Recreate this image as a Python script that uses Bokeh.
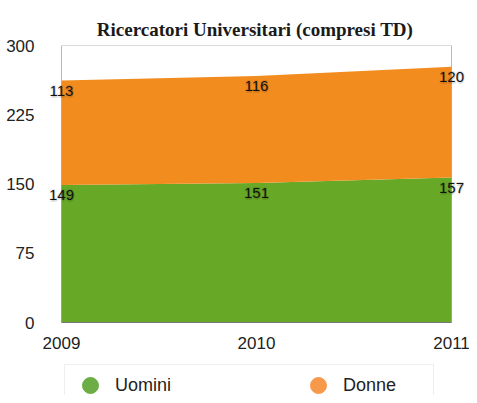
from bokeh.plotting import figure
from bokeh.models import (ColumnDataSource, FixedTicker, Legend, LegendItem,
                          LabelSet, Range1d)
from bokeh.core.properties import value
from bokeh.embed import file_html
from bokeh.resources import INLINE

# ---- data ----
years = [2009, 2010, 2011]
uomini = [149, 151, 157]
donne = [113, 116, 120]
series_names = ["Uomini", "Donne"]
y_ticks = [0, 75, 150, 225, 300]
x_ticks = [2009, 2010, 2011]
title_text = "Ricercatori Universitari (compresi TD)"

area_colors = ["#67a827", "#f28c1f"]
legend_colors = ["#6cae45", "#f7994a"]

# ---- layout (pixels) ----
W, H = 469, 395
x_left_px, x_right_px = 61, 451      # pixel positions of first / last year
pad_left_px = 21
frame_left = x_left_px - pad_left_px
frame_top, axis_bottom_px = 45, 322   # pixel rows of y=300 and y=0
px_per_year = (x_right_px - x_left_px) / (years[-1] - years[0])
pad_l = pad_left_px / px_per_year
pad_r = (W - x_right_px) / px_per_year
px_per_unit = (axis_bottom_px - frame_top) / (y_ticks[-1] - y_ticks[0])
y_min = y_ticks[-1] - (H - frame_top) / px_per_unit

p = figure(width=W, height=H, output_backend="svg", toolbar_location=None,
           x_axis_location=None,
           x_range=Range1d(years[0] - pad_l, years[-1] + pad_r),
           y_range=Range1d(y_min, y_ticks[-1]),
           min_border_left=frame_left, min_border_right=0,
           min_border_top=frame_top, min_border_bottom=0)

p.title.text = title_text
p.title.align = "center"
p.title.vertical_align = "middle"
p.title.text_font = "Liberation Serif"
p.title.text_font_style = "bold"
p.title.text_font_size = "19px"
p.title.text_color = "#1a1a1a"
p.title.standoff = 10

# plot-area border (light grey), drawn beneath the areas
bsrc = ColumnDataSource(dict(
    x0=[years[0], years[0], years[-1]],
    x1=[years[-1], years[0], years[-1]],
    y0=[y_ticks[-1], y_ticks[0], y_ticks[0]],
    y1=[y_ticks[-1], y_ticks[-1], y_ticks[-1]]))
p.segment(x0="x0", y0="y0", x1="x1", y1="y1", source=bsrc,
          line_color="#b8b8b8", line_width=1)

src = ColumnDataSource(dict(year=years, Uomini=uomini, Donne=donne))
p.varea_stack(series_names, x="year", source=src, color=area_colors)

# bottom axis line
p.segment(x0=[years[0]], y0=[y_ticks[0]], x1=[years[-1]], y1=[y_ticks[0]],
          line_color="#777777", line_width=1)

# x tick labels (under the y=0 line)
xt_src = ColumnDataSource(dict(x=x_ticks, y=[y_ticks[0]] * len(x_ticks),
                               t=[str(v) for v in x_ticks]))
p.add_layout(LabelSet(x="x", y="y", text="t", source=xt_src, y_offset=-20,
                      text_align="center", text_baseline="middle",
                      text_font=value("Liberation Sans"),
                      text_font_size=value("17px"), text_color="#222222"))

# value labels
top_u = list(uomini)
top_d = [u + d for u, d in zip(uomini, donne)]
lab_src = ColumnDataSource(dict(
    x=years + years,
    y=top_u + top_d,
    t=[str(v) for v in uomini] + [str(v) for v in donne]))
for dx, dy, alpha in [(1, -1, 0.12), (-1, 1, 0.08), (1, 1, 0.1), (0, -2, 0.1)]:
    p.add_layout(LabelSet(x="x", y="y", text="t", source=lab_src,
                          x_offset=dx, y_offset=-10 + dy, text_align="center",
                          text_baseline="middle",
                          text_font=value("Liberation Sans"),
                          text_font_size=value("15px"), text_color="black",
                          text_alpha=alpha))
p.add_layout(LabelSet(x="x", y="y", text="t", source=lab_src, y_offset=-10,
                      text_align="center", text_baseline="middle",
                      text_font=value("Liberation Sans"),
                      text_font_size=value("15px"), text_color="#111111"))

p.grid.visible = False
p.outline_line_color = None
p.background_fill_color = "white"
p.border_fill_color = "white"

p.yaxis.ticker = FixedTicker(ticks=y_ticks)
p.yaxis.axis_line_color = None
p.yaxis.major_tick_line_color = None
p.yaxis.minor_tick_line_color = None
p.yaxis.major_label_standoff = 0
p.yaxis.major_label_text_font = "Liberation Sans"
p.yaxis.major_label_text_font_size = "17px"
p.yaxis.major_label_text_color = "#222222"

# legend (marker swatches; the point itself is not drawn, y is NaN)
items = []
for name, col in zip(series_names, legend_colors):
    r = p.scatter(x=[years[0]], y=[float("nan")], marker="circle",
                  color=col, size=17)
    items.append(LegendItem(label=name, renderers=[r]))
legend = Legend(items=items, orientation="horizontal", location=(64 - frame_left, -11),
                padding=0, margin=0, spacing=88, glyph_width=50, glyph_height=40,
                label_standoff=0, label_width=90,
                label_text_font="Liberation Sans",
                label_text_font_size="18px", label_text_color="#222222",
                border_line_color="#dddddd", background_fill_color="white",
                background_fill_alpha=1)
p.add_layout(legend, "center")

open("out.html", "w").write(file_html(p, INLINE))
